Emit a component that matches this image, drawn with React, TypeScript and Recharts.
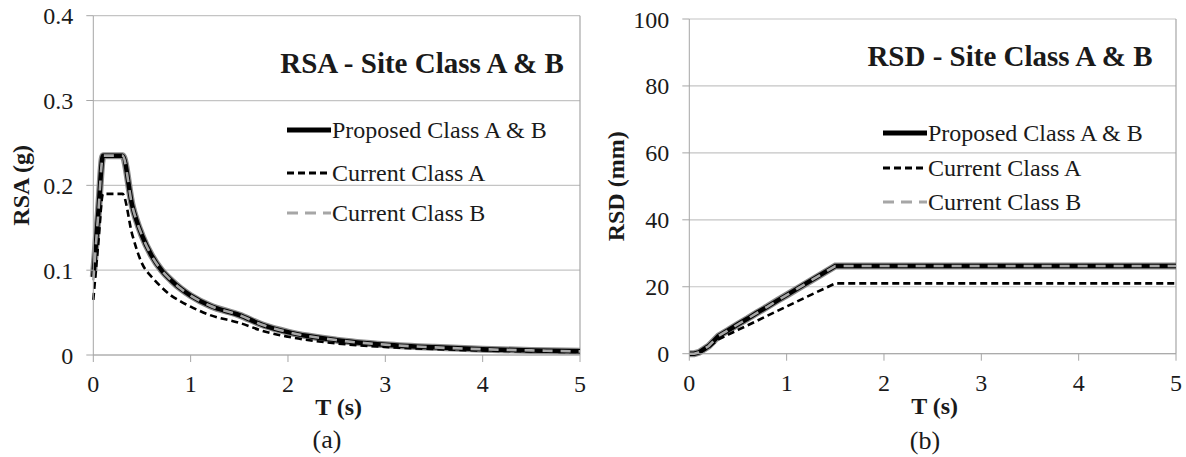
import React from 'react';
import { LineChart, Line, XAxis, YAxis, CartesianGrid, ReferenceLine, Legend } from 'recharts';

// ---- data ----
const T_VALUES = [0, 0.05, 0.1, 0.2, 0.3, 0.4, 0.5, 0.6, 0.7, 0.8, 0.9, 1.0, 1.2, 1.5, 1.75, 2.0, 2.5, 3.0, 3.5, 4.0, 4.5, 5.0];

const RSA_PROPOSED = [0.092, 0.165, 0.235, 0.235, 0.235, 0.176, 0.141, 0.117, 0.100, 0.088, 0.078, 0.070, 0.058, 0.047, 0.035, 0.027, 0.0175, 0.0122, 0.009, 0.0068, 0.0054, 0.0043];
const RSA_CURRENT_A = [0.065, 0.13, 0.19, 0.19, 0.19, 0.142, 0.108, 0.092, 0.080, 0.070, 0.063, 0.057, 0.047, 0.038, 0.028, 0.0215, 0.0136, 0.0095, 0.007, 0.0053, 0.0042, 0.0034];
const RSA_CURRENT_B = [0.088, 0.165, 0.235, 0.235, 0.235, 0.176, 0.141, 0.117, 0.100, 0.088, 0.078, 0.070, 0.058, 0.047, 0.035, 0.027, 0.0175, 0.0122, 0.009, 0.0068, 0.0054, 0.0043];

const RSD_PROPOSED = [0, 0, 0.4, 2.3, 5.3, 7.0, 8.8, 10.5, 12.3, 14.0, 15.8, 17.5, 21.0, 26.2, 26.2, 26.2, 26.2, 26.2, 26.2, 26.2, 26.2, 26.2];
const RSD_CURRENT_A = [0, 0, 0.3, 1.9, 4.3, 5.7, 7.1, 8.5, 9.9, 11.3, 12.7, 14.1, 16.9, 21.0, 21.0, 21.0, 21.0, 21.0, 21.0, 21.0, 21.0, 21.0];
const RSD_CURRENT_B = [0, 0, 0.4, 2.3, 5.3, 7.0, 8.8, 10.5, 12.3, 14.0, 15.8, 17.5, 21.0, 26.2, 26.2, 26.2, 26.2, 26.2, 26.2, 26.2, 26.2, 26.2];

const X_TICKS = [0, 1, 2, 3, 4, 5];
const RSA_TICKS = [0, 0.1, 0.2, 0.3, 0.4];
const RSD_TICKS = [0, 20, 40, 60, 80, 100];

const SERIES_NAMES = ['Proposed Class A & B', 'Current Class A', 'Current Class B'];
const TITLES = ['RSA - Site Class A & B', 'RSD - Site Class A & B'];
const Y_TITLES = ['RSA (g)', 'RSD (mm)'];
const X_TITLE = 'T (s)';
const PANEL_LABELS = ['(a)', '(b)'];

const rsaData = T_VALUES.map((t, i) => ({ T: t, p: RSA_PROPOSED[i], a: RSA_CURRENT_A[i], b: RSA_CURRENT_B[i] }));
const rsdData = T_VALUES.map((t, i) => ({ T: t, p: RSD_PROPOSED[i], a: RSD_CURRENT_A[i], b: RSD_CURRENT_B[i] }));

const FONT = '"Liberation Serif", Tinos, "Times New Roman", Times, "DejaVu Serif", serif';
const GRID = '#c4c4c4';
const AXIS = '#a6a6a6';
const TEXT = '#1a1a1a';

const STYLES = [
  { stroke: '#000', width: 4.5, dash: undefined as string | undefined, legendWidth: 5 },
  { stroke: '#000', width: 2.6, dash: '7 4', legendWidth: 3 },
  { stroke: '#a6a6a6', width: 2.6, dash: '10 8', legendWidth: 3 },
];

const LegendBox = ({ rowCenters }: { rowCenters: number[] }) => (
  <div style={{ position: 'relative', width: 300, height: 230, fontFamily: FONT }}>
    {SERIES_NAMES.map((name, i) => (
      <div key={name} style={{ position: 'absolute', left: 0, top: rowCenters[i] - 16, height: 32, display: 'flex', alignItems: 'center', whiteSpace: 'nowrap' }}>
        <svg width={44} height={10} style={{ display: 'block' }}>
          <line x1={0} y1={5} x2={44} y2={5} stroke={STYLES[i].stroke} strokeWidth={STYLES[i].legendWidth} strokeDasharray={i === 2 ? '11 7' : STYLES[i].dash} />
        </svg>
        <span style={{ fontSize: 24, color: TEXT, marginLeft: 1, lineHeight: '32px' }}>{name}</span>
      </div>
    ))}
  </div>
);

const yLabel = (text: string, cx: number) => (props: any) => {
  const vb = props.viewBox || {};
  const cy = vb.y + vb.height / 2;
  return (
    <text x={cx} y={cy} transform={`rotate(-90, ${cx}, ${cy})`} textAnchor="middle" dominantBaseline="central"
      fontFamily={FONT} fontSize={24} fontWeight="bold" fill={TEXT}>{text}</text>
  );
};

const xLabel = (text: string, dx: number) => (props: any) => {
  const vb = props.viewBox || {};
  const cx = vb.x + vb.width / 2 + dx;
  return (
    <text x={cx} y={vb.y + 52} textAnchor="middle" dominantBaseline="central"
      fontFamily={FONT} fontSize={24} fontWeight="bold" fill={TEXT}>{text}</text>
  );
};

const tickStyle = { fontFamily: FONT, fontSize: 24, fill: TEXT };

function Panel(props: {
  data: any[]; width: number; margin: any; yWidth: number; yTicks: number[]; yDomain: [number, number];
  yFmt: (v: number) => string; yTitle: string; yTitleX: number; legendLeft: number;
  rowCenters: number[]; curve: 'monotone' | 'linear';
}) {
  const { data, width, margin, yWidth, yTicks, yDomain, yFmt, yTitle, yTitleX, legendLeft, rowCenters, curve } = props;
  return (
    <LineChart width={width} height={457} data={data} margin={margin} style={{ fontFamily: FONT }}>
      <CartesianGrid horizontal={true} vertical={false} stroke={GRID} strokeWidth={1.2} />
      <XAxis dataKey="T" type="number" domain={[0, 5]} ticks={X_TICKS} interval={0} height={50}
        tick={tickStyle} tickSize={7} tickMargin={13} stroke={AXIS} tickLine={{ stroke: AXIS }}
        label={{ content: xLabel(X_TITLE, 2) }} />
      <YAxis type="number" domain={yDomain} ticks={yTicks} interval={0} width={yWidth} tickFormatter={yFmt}
        tick={tickStyle} tickSize={7} tickMargin={13} stroke={AXIS} tickLine={{ stroke: AXIS }}
        label={{ content: yLabel(yTitle, yTitleX) }} />
      <ReferenceLine x={5} stroke={AXIS} strokeWidth={1.2} />
      <Line type={curve} dataKey="p" stroke="#8c8c8c" strokeWidth={7} dot={false} isAnimationActive={false} legendType="none" name="halo" />
      <Line type={curve} dataKey="p" stroke={STYLES[0].stroke} strokeWidth={STYLES[0].width} dot={false} isAnimationActive={false} name={SERIES_NAMES[0]} />
      <Line type={curve} dataKey="a" stroke={STYLES[1].stroke} strokeWidth={STYLES[1].width} strokeDasharray={STYLES[1].dash} dot={false} isAnimationActive={false} name={SERIES_NAMES[1]} />
      <Line type={curve} dataKey="b" stroke={STYLES[2].stroke} strokeWidth={STYLES[2].width} strokeDasharray={STYLES[2].dash} dot={false} isAnimationActive={false} name={SERIES_NAMES[2]} />
      <Legend layout="horizontal" verticalAlign="middle" align="center" content={() => <LegendBox rowCenters={rowCenters} />}
        wrapperStyle={{ position: 'absolute', left: legendLeft, top: 0, width: 300, height: 230, bottom: 'auto', right: 'auto', margin: 0 }} />
    </LineChart>
  );
}

const overlay = (text: string, cx: number, cy: number, size: number, bold: boolean) => (
  <div style={{ position: 'absolute', left: cx - 200, top: cy - size * 0.6, width: 400, textAlign: 'center', fontFamily: FONT,
    fontSize: size, fontWeight: bold ? 'bold' : 'normal', color: TEXT, lineHeight: `${size * 1.2}px`, whiteSpace: 'nowrap' }}>{text}</div>
);

export default function App() {
  return (
    <div style={{ position: 'absolute', left: 0, top: 0, width: 1186, height: 457, background: '#fff', overflow: 'hidden', fontFamily: FONT }}>
      <div style={{ position: 'absolute', left: 0, top: 0 }}>
        <Panel data={rsaData} width={600} margin={{ top: 15.7, right: 20, left: 0, bottom: 52 }} yWidth={93.3}
          yTicks={RSA_TICKS} yDomain={[0, 0.4]} yFmt={(v) => (v === 0 ? '0' : v.toFixed(1))}
          yTitle={Y_TITLES[0]} yTitleX={21} legendLeft={287} rowCenters={[130, 173, 213]} curve="monotone" />
      </div>
      <div style={{ position: 'absolute', left: 600, top: 0 }}>
        <Panel data={rsdData} width={586} margin={{ top: 19, right: 10, left: 0, bottom: 53.3 }} yWidth={89.3}
          yTicks={RSD_TICKS} yDomain={[0, 100]} yFmt={(v) => String(v)}
          yTitle={Y_TITLES[1]} yTitleX={16} legendLeft={283} rowCenters={[133, 168, 202]} curve="linear" />
      </div>
      {overlay(TITLES[0], 422, 63, 29, true)}
      {overlay(TITLES[1], 1010, 56, 29, true)}
      {overlay(PANEL_LABELS[0], 327, 440, 26, false)}
      {overlay(PANEL_LABELS[1], 925, 441, 26, false)}
    </div>
  );
}
